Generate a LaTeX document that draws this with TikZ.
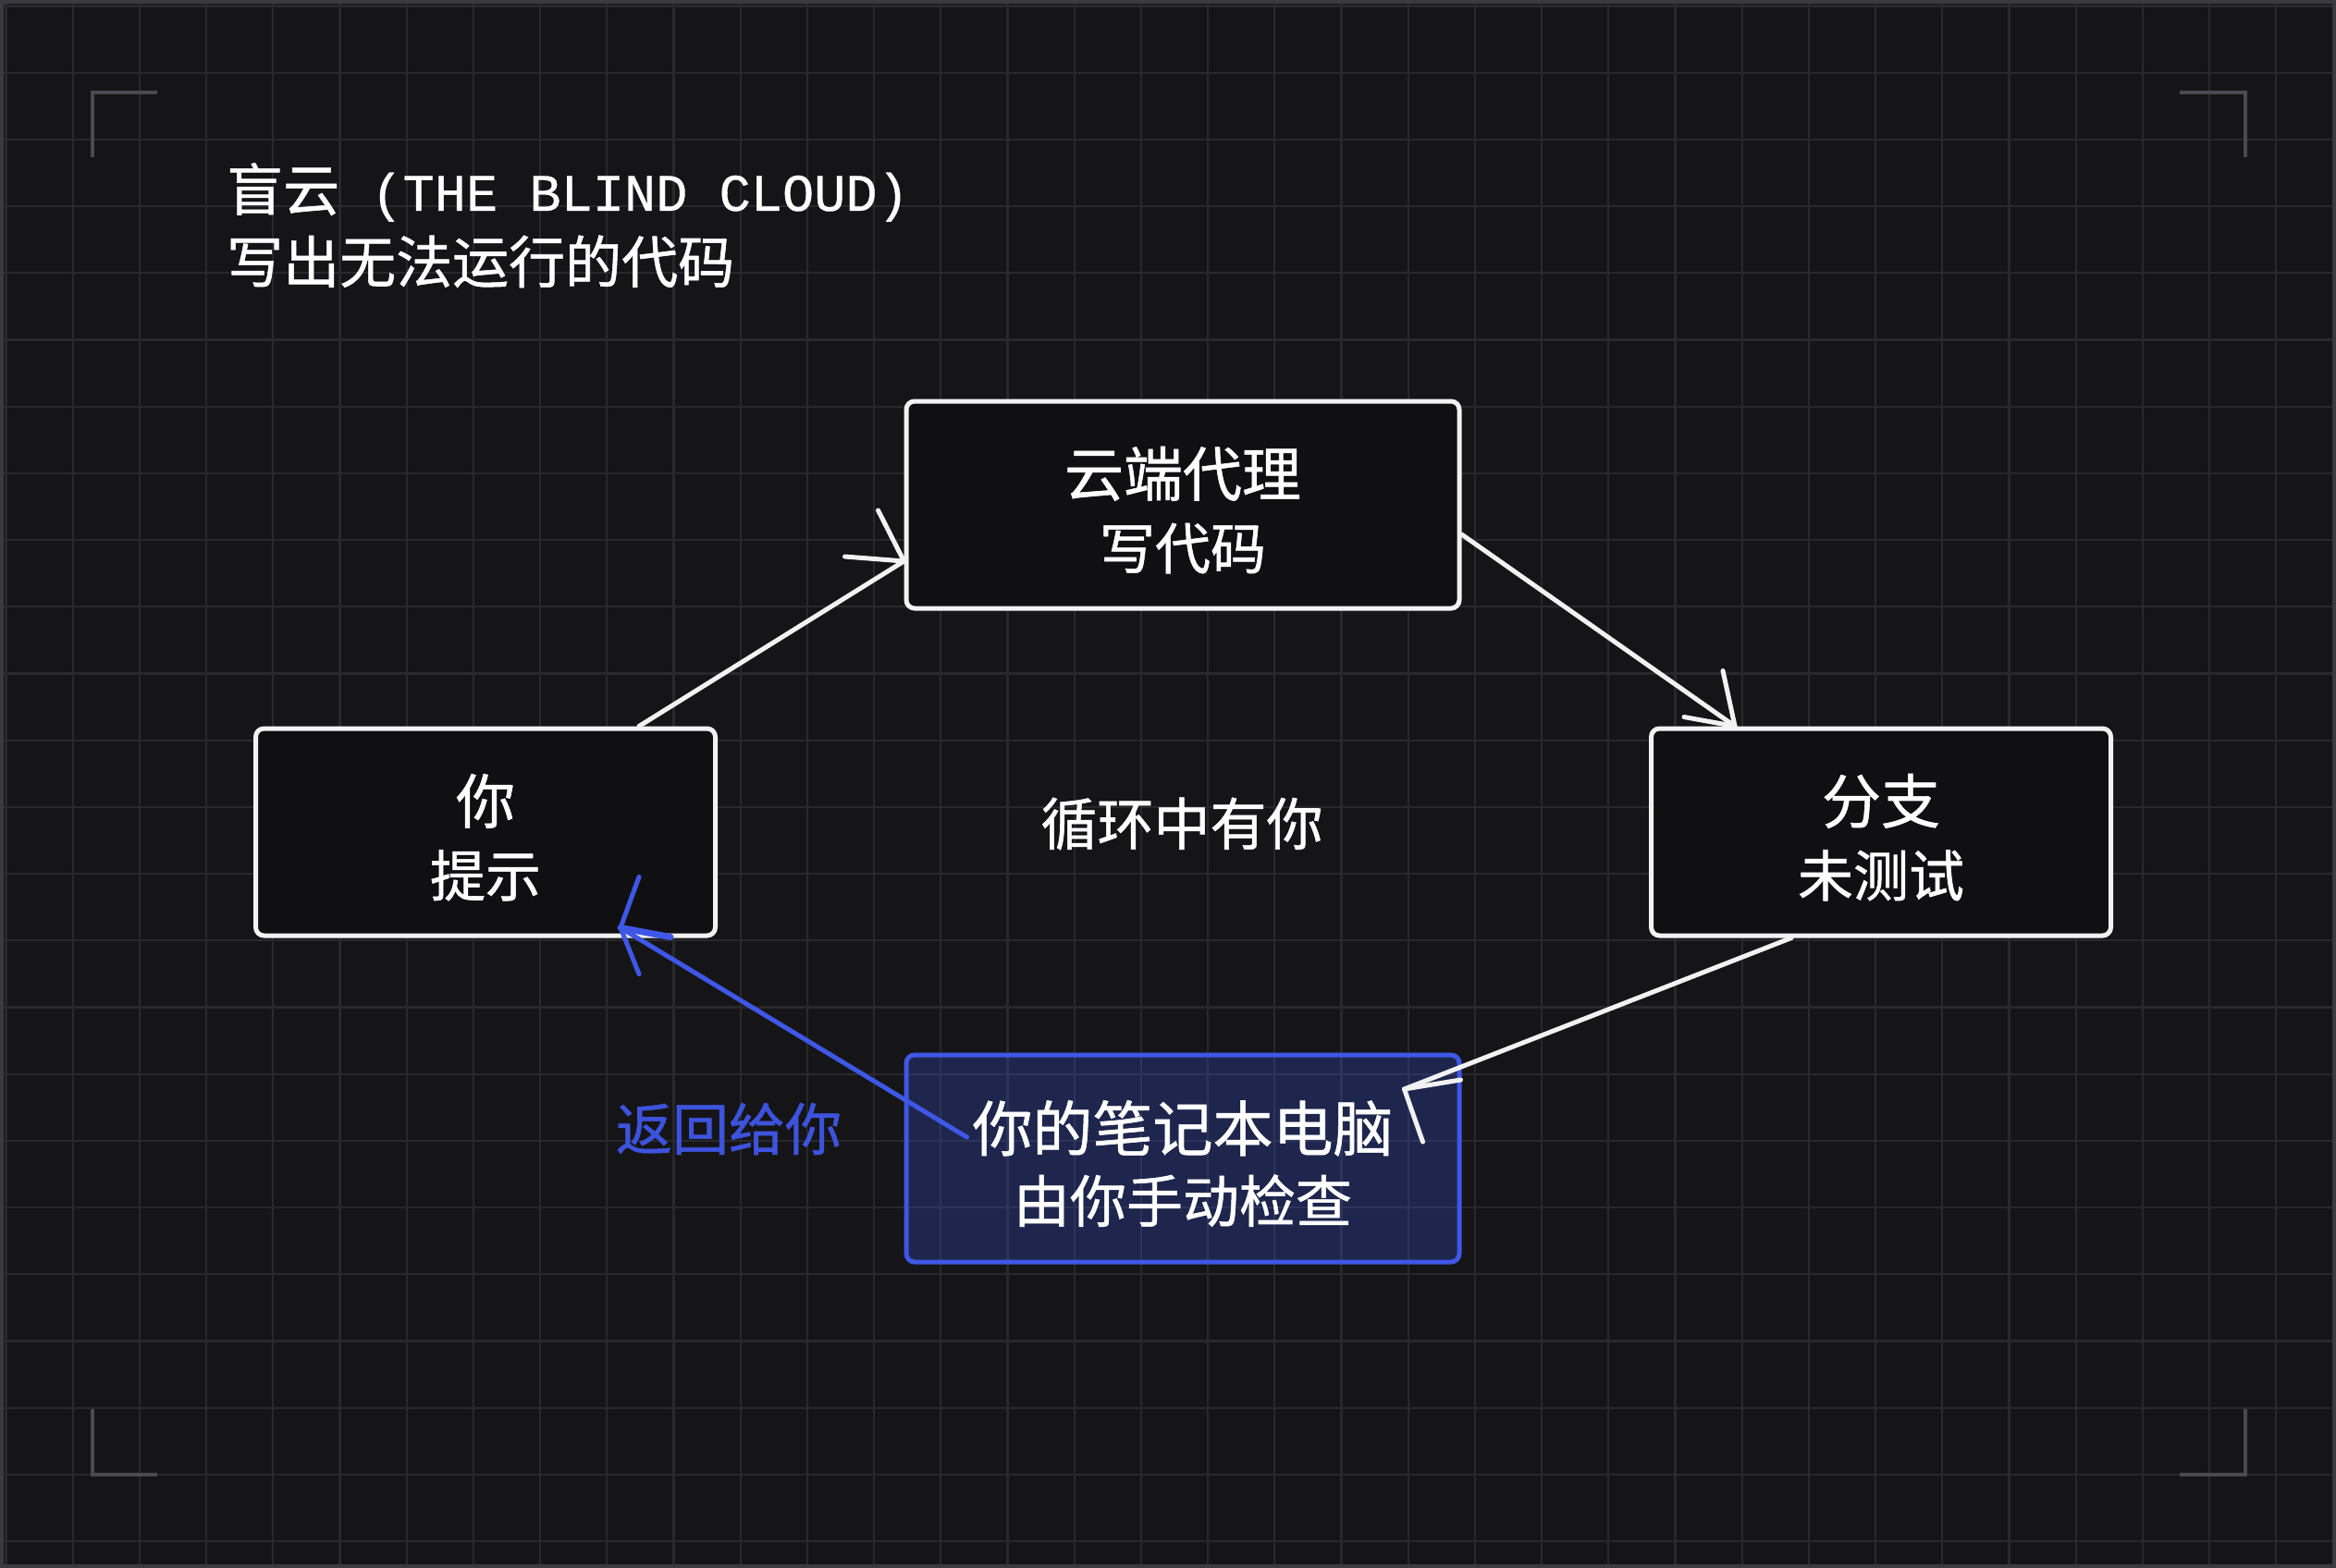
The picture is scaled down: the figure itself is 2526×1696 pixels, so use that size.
\documentclass[tikz,border=0pt]{standalone}
\usepackage{fontspec}
\newfontfamily\cjk[UprightFeatures={FakeBold=0.9}]{Noto Sans CJK SC}
\newfontfamily\mono[UprightFeatures={FakeBold=0.6}]{Liberation Mono}
\definecolor{bg}{HTML}{151518}
\definecolor{gridc}{HTML}{28282D}
\definecolor{framec}{HTML}{3A3A40}
\definecolor{boxfill}{HTML}{101013}
\definecolor{boxline}{HTML}{F2F2F2}
\definecolor{accent}{HTML}{3F57E6}
\definecolor{accenttext}{HTML}{3D53DC}
\definecolor{bracketc}{HTML}{4A4A50}
\newcommand\topstrut{\rule{0pt}{65pt}}
\newcommand\secondline{\fontsize{60}{79}\selectfont}
\begin{document}
\begin{tikzpicture}[x=1pt,y=-1pt,
  gridline/.style={gridc, line width=2.2pt},
  bracketline/.style={bracketc, line width=3.5pt},
  card/.style={draw=boxline, line width=5pt, rounded corners=9pt, fill=boxfill,
    text=white, align=center, font=\cjk\fontsize{64}{79}\selectfont, inner sep=0pt,
    minimum width=598pt, minimum height=224pt},
  smallcard/.style={card, minimum width=497pt},
  bluecard/.style={card, draw=accent, fill=accent, fill opacity=0.26, text opacity=1,
    font=\cjk\fontsize{65}{77}\selectfont},
  wline/.style={boxline, line width=5pt, line cap=round},
  bline/.style={accent, line width=5pt, line cap=round},
  title/.style={text=white, inner sep=0pt, anchor=base west, font=\cjk\fontsize{61}{70}\selectfont},
  plainlabel/.style={text=white, inner sep=0pt, font=\cjk\fontsize{61}{70}\selectfont}
]
\useasboundingbox (0,0) rectangle (2526,1696);
\fill[bg] (0,0) rectangle (2526,1696);
% grid
\foreach \i in {0,...,34} {
  \draw[gridline] ({6.5+72.2*\i},0) -- ({6.5+72.2*\i},1696);
}
\foreach \j in {0,...,23} {
  \draw[gridline] (0,{6.5+72.2*\j}) -- (2526,{6.5+72.2*\j});
}
\draw[framec, line width=4pt] (2,2) rectangle (2524,1694);
% corner brackets
\draw[bracketline] (170,100) -- (100,100) -- (100,170);
\draw[bracketline] (2357,100) -- (2428,100) -- (2428,170);
\draw[bracketline] (100,1524) -- (100,1595) -- (170,1595);
\draw[bracketline] (2357,1595) -- (2428,1595) -- (2428,1524);
% title
\node[title] (t1) at (245,228) {盲云{\mono\fontsize{57}{70}\selectfont{} (THE BLIND CLOUD)}};
\node[title] (t2) at (245,306) {写出无法运行的代码};
% nodes
\node[card] (agent) at (1279,546) {\topstrut 云端代理\\{\secondline 写代码}};
\node[smallcard] (you) at (525,900) {\topstrut 你\\{\secondline 提示}};
\node[smallcard] (branch) at (2034,900) {\topstrut 分支\\{\secondline 未测试}};
\node[bluecard] (laptop) at (1279,1253) {\rule{0pt}{66pt}你的笔记本电脑\\{\fontsize{61}{77}\selectfont 由你手动检查}};
\node[plainlabel] (loop) at (1278,891) {循环中有你};
\node[plainlabel, text=accenttext] (back) at (788,1221) {返回给你};
% connectors
\coordinate (tipA) at ([yshift=-61pt]agent.west);
\coordinate (tipB) at ([xshift=-158pt]branch.north);
\coordinate (tipC) at ([shift={(-62pt,75pt)}]laptop.east);
\coordinate (tipD) at ([shift={(146pt,11pt)}]you.south);
\draw[wline] ([xshift=-85pt]you.north east) -- (tipA);
\draw[wline] (tipA) -- ++(-28,-55);
\draw[wline] (tipA) -- ++(-64,-5);
\draw[wline] ([yshift=-32pt]agent.east) -- (tipB);
\draw[wline] (tipB) -- ++(-13,-60);
\draw[wline] (tipB) -- ++(-55,-10);
\draw[wline] ([xshift=-97pt]branch.south) -- (tipC);
\draw[wline] (tipC) -- ++(20,57);
\draw[wline] (tipC) -- ++(61,-10);
\draw[bline] ([shift={(68pt,23pt)}]laptop.west) -- (tipD);
\draw[bline] (tipD) -- ++(20,-55);
\draw[bline] (tipD) -- ++(20,50);
\draw[bline, line width=7pt] (tipD) -- ++(54,10);
\end{tikzpicture}
\end{document}
